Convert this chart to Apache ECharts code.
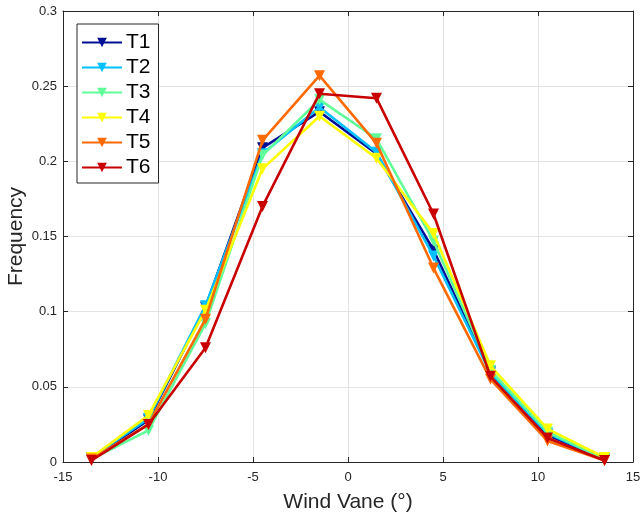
<!DOCTYPE html>
<html>
<head>
<meta charset="utf-8">
<script src="https://cdn.jsdelivr.net/npm/echarts@6/dist/echarts.min.js"></script>
<style>
  html, body { margin: 0; padding: 0; background: #ffffff; }
  #chart { width: 641px; height: 515px; }
</style>
</head>
<body>
<div id="chart"></div>
<script>
// Wind vane angle bins (degrees)
const angles = [-13.5, -10.5, -7.5, -4.5, -1.5, 1.5, 4.5, 7.5, 10.5, 13.5];

// Frequency of each bin for the six cases
const T1 = [0.002, 0.028, 0.103, 0.209, 0.233, 0.205, 0.141, 0.060, 0.018, 0.002];
const T2 = [0.003, 0.029, 0.104, 0.205, 0.236, 0.206, 0.137, 0.059, 0.019, 0.002];
const T3 = [0.002, 0.021, 0.092, 0.204, 0.241, 0.215, 0.147, 0.061, 0.020, 0.002];
const T4 = [0.003, 0.031, 0.101, 0.195, 0.230, 0.202, 0.152, 0.064, 0.022, 0.003];
const T5 = [0.002, 0.025, 0.095, 0.214, 0.257, 0.212, 0.129, 0.055, 0.014, 0.001];
const T6 = [0.001, 0.025, 0.076, 0.170, 0.245, 0.242, 0.165, 0.057, 0.016, 0.001];

const seriesNames = ['T1', 'T2', 'T3', 'T4', 'T5', 'T6'];
const seriesData = [T1, T2, T3, T4, T5, T6];
const seriesColors = ['#000f96', '#00c0ff', '#60ff9a', '#ffff00', '#ff6a00', '#c80000'];

const xTicks = { min: -15, max: 15, interval: 5 };
const yTicks = { min: 0, max: 0.3, interval: 0.05 };

const axisColor = '#262626';
const gridColor = '#e3e3e3';
const font = 'Liberation Sans, Arial, Helvetica, sans-serif';

const chart = echarts.init(document.getElementById('chart'), null, { renderer: 'canvas' });

const series = seriesNames.map((name, i) => ({
  name: name,
  type: 'line',
  xAxisIndex: 0,
  yAxisIndex: 0,
  data: angles.map((a, j) => [a, seriesData[i][j]]),
  symbol: 'triangle',
  symbolRotate: 180,
  symbolSize: 11,
  showAllSymbol: true,
  lineStyle: { width: 2.6, color: seriesColors[i] },
  itemStyle: { color: seriesColors[i] },
  emphasis: { disabled: true },
  animation: false,
  z: 2 + i
}));

chart.setOption({
  animation: false,
  backgroundColor: '#ffffff',
  grid: { left: 63, right: 8, top: 11, bottom: 53, containLabel: false, outerBoundsMode: 'none' },
  legend: {
    orient: 'vertical',
    left: 77,
    top: 24,
    data: seriesNames,
    itemWidth: 40,
    itemHeight: 12,
    itemGap: 4,
    padding: [8, 8, 5, 4],
    borderColor: axisColor,
    borderWidth: 1,
    borderRadius: 0,
    backgroundColor: '#ffffff',
    textStyle: { fontSize: 21, color: '#000000', fontFamily: font, padding: [0, 0, 0, -1] }
  },
  xAxis: [
    {
      type: 'value',
      position: 'bottom',
      min: xTicks.min, max: xTicks.max, interval: xTicks.interval,
      name: 'Wind Vane (°)',
      nameLocation: 'middle',
      nameGap: 30,
      nameTextStyle: { fontSize: 21, color: axisColor, fontFamily: font },
      axisLine: { show: true, onZero: false, lineStyle: { color: axisColor, width: 1 } },
      axisTick: { show: true, inside: true, length: 5, lineStyle: { color: axisColor } },
      axisLabel: { fontSize: 13, color: axisColor, fontFamily: font, margin: 9 },
      splitLine: { show: true, lineStyle: { color: gridColor, width: 1 } }
    },
    {
      type: 'value',
      position: 'top',
      min: xTicks.min, max: xTicks.max, interval: xTicks.interval,
      axisLine: { show: true, onZero: false, lineStyle: { color: axisColor, width: 1 } },
      axisTick: { show: true, inside: true, length: 5, lineStyle: { color: axisColor } },
      axisLabel: { show: false },
      splitLine: { show: false }
    }
  ],
  yAxis: [
    {
      type: 'value',
      position: 'left',
      min: yTicks.min, max: yTicks.max, interval: yTicks.interval,
      name: 'Frequency',
      nameLocation: 'middle',
      nameGap: 36,
      nameMoveOverlap: false,
      nameTextStyle: { fontSize: 21, color: axisColor, fontFamily: font },
      axisLine: { show: true, onZero: false, lineStyle: { color: axisColor, width: 1 } },
      axisTick: { show: true, inside: true, length: 5, lineStyle: { color: axisColor } },
      axisLabel: { fontSize: 13, color: axisColor, fontFamily: font, margin: 6 },
      splitLine: { show: true, lineStyle: { color: gridColor, width: 1 } }
    },
    {
      type: 'value',
      position: 'right',
      min: yTicks.min, max: yTicks.max, interval: yTicks.interval,
      axisLine: { show: true, onZero: false, lineStyle: { color: axisColor, width: 1 } },
      axisTick: { show: true, inside: true, length: 5, lineStyle: { color: axisColor } },
      axisLabel: { show: false },
      splitLine: { show: false }
    }
  ],
  series: series
});
</script>
</body>
</html>
